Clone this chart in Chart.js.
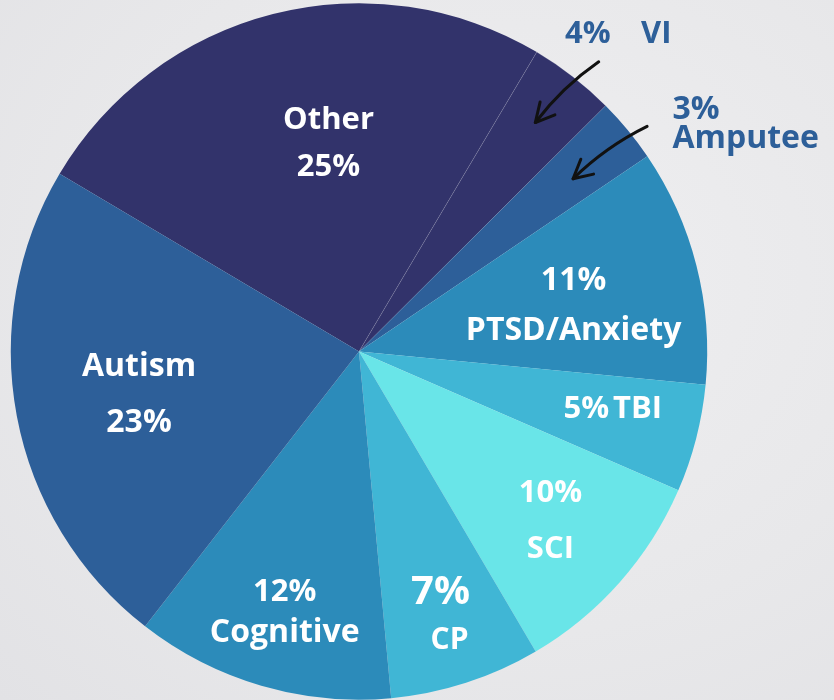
<!DOCTYPE html>
<html>
<head>
<meta charset="utf-8">
<script src="https://cdn.jsdelivr.net/npm/chart.js@4.4.1/dist/chart.umd.min.js"></script>
<style>
  html, body { margin: 0; padding: 0; }
  body {
    width: 834px; height: 700px; overflow: hidden;
    background: radial-gradient(ellipse at 60% 40%, #efeff1 0%, #e8e8ea 60%, #e2e2e5 100%);
  }
  canvas { display: block; }
</style>
</head>
<body>
<canvas id="pie" width="834" height="700"></canvas>
<script>
// data, clockwise from the top-left "Other" slice
const categories = ['Other', 'VI', 'Amputee', 'PTSD/Anxiety', 'TBI', 'SCI', 'CP', 'Cognitive', 'Autism'];
const percents = [25, 4, 3, 11, 5, 10, 7, 12, 23];
const sliceColors = ['#32336b', '#32336b', '#2d5f99', '#2c8bba', '#40b6d5', '#69e5e8', '#40b6d5', '#2c8bba', '#2d5f99'];

const FONT = '"Open Sans", "Noto Sans", sans-serif';
const BLUE_TEXT = '#2d5f99';

// point in polar terms of an arc: f = fraction of outer radius, da = degrees added to mid angle
function polar(arc, f, da) {
  const p = arc.getProps(['x', 'y', 'startAngle', 'endAngle', 'outerRadius'], true);
  const a = (p.startAngle + p.endAngle) / 2 + (da || 0) * Math.PI / 180;
  return { x: p.x + Math.cos(a) * p.outerRadius * f, y: p.y + Math.sin(a) * p.outerRadius * f };
}

// how each label sits in or near its slice: [text, font size, x nudge]
const labelLayout = [
  { f: 0.61, dx: 22, dy: -2, gap: 47, lines: (n, v) => [[n, 31, 0], [v, 31, 0]] },
  null,
  null,
  { f: 0.63, dx: 2, dy: 9, gap: 50, lines: (n, v) => [[v, 32, 0], [n, 32, 0]] },
  null,
  { f: 0.73, dx: 1, dy: 1, gap: 56, lines: (n, v) => [[v, 31, 0], [n, 31, 0]] },
  { f: 0.79, dx: -3, dy: 3, gap: 48, lines: (n, v) => [[v, 40, 0], [n, 30, 9]] },
  { f: 0.77, dx: 1, dy: 4, gap: 41, lines: (n, v) => [[v, 31, 0], [n, 32, 0]] },
  { f: 0.64, dx: -1, dy: 2, gap: 56, lines: (n, v) => [[n, 32, 0], [v, 32, 0]] },
];

function arrow(ctx, from, to) {
  const mx = (from.x + to.x) / 2, my = (from.y + to.y) / 2;
  const cx = mx + (to.y - from.y) * -0.08, cy = my + (from.x - to.x) * -0.08;
  ctx.beginPath();
  ctx.moveTo(from.x, from.y);
  ctx.quadraticCurveTo(cx, cy, to.x, to.y);
  ctx.stroke();
  const ang = Math.atan2(to.y - cy, to.x - cx);
  const len = 21;
  ctx.beginPath();
  ctx.moveTo(to.x + Math.cos(ang + Math.PI - 0.42) * len, to.y + Math.sin(ang + Math.PI - 0.42) * len);
  ctx.lineTo(to.x, to.y);
  ctx.lineTo(to.x + Math.cos(ang + Math.PI + 0.55) * len, to.y + Math.sin(ang + Math.PI + 0.55) * len);
  ctx.stroke();
}

const sliceLabels = {
  id: 'sliceLabels',
  afterDatasetsDraw(chart) {
    const ctx = chart.ctx;
    const arcs = chart.getDatasetMeta(0).data;
    ctx.save();
    ctx.textAlign = 'center';
    ctx.textBaseline = 'middle';
    ctx.fillStyle = '#ffffff';

    labelLayout.forEach((lay, i) => {
      if (!lay) return;
      const c = polar(arcs[i], lay.f, 0);
      const lines = lay.lines(categories[i], percents[i] + '%');
      const top = c.y + lay.dy - lay.gap * (lines.length - 1) / 2;
      lines.forEach(([t, s, nx], k) => {
        ctx.font = `700 ${s}px ${FONT}`;
        ctx.fillText(t, c.x + lay.dx + nx, top + k * lay.gap);
      });
    });

    // TBI: percent and name on one line
    const tbi = polar(arcs[4], 0.74, -1.5);
    ctx.font = `700 31px ${FONT}`;
    ctx.textAlign = 'right';
    ctx.fillText(percents[4] + '%', tbi.x - 1, tbi.y);
    ctx.textAlign = 'left';
    ctx.fillText(categories[4], tbi.x + 3, tbi.y);

    // outside labels for the thin slices
    ctx.fillStyle = BLUE_TEXT;
    const vi = polar(arcs[1], 1.18, 1);
    ctx.textAlign = 'left';
    ctx.font = `700 31px ${FONT}`;
    ctx.fillText(percents[1] + '%', vi.x - 52, vi.y + 2);
    ctx.fillText(categories[1], vi.x + 24, vi.y + 2);

    ctx.font = `700 32px ${FONT}`;
    const amp = polar(arcs[2], 1.29, 8.6);
    ctx.fillText(percents[2] + '%', amp.x - 72, amp.y - 11);
    ctx.fillText(categories[2], amp.x - 72, amp.y + 18);

    // hand drawn arrows
    ctx.strokeStyle = '#111111';
    ctx.lineWidth = 3;
    ctx.lineCap = 'round';
    ctx.lineJoin = 'round';
    arrow(ctx, polar(arcs[1], 1.08, 1.7), polar(arcs[1], 0.83, -0.3));
    arrow(ctx, polar(arcs[2], 1.05, 1.5), polar(arcs[2], 0.79, 0.6));
    ctx.restore();
  }
};

const chart = new Chart(document.getElementById('pie'), {
  type: 'pie',
  data: {
    labels: categories,
    datasets: [{
      data: percents,
      backgroundColor: sliceColors,
      borderColor: sliceColors.map((c, i) => (i === 1 ? 'rgba(255,255,255,0.25)' : c)),
      borderWidth: sliceColors.map((c, i) => (i === 1 ? 0.6 : 0)),
    }],
  },
  options: {
    responsive: false,
    animation: false,
    rotation: -59.3,
    layout: { padding: { left: 10, right: 126, top: 3, bottom: 0 } },
    plugins: {
      legend: { display: false },
      tooltip: { enabled: false },
    },
  },
  plugins: [sliceLabels],
});
</script>
</body>
</html>
